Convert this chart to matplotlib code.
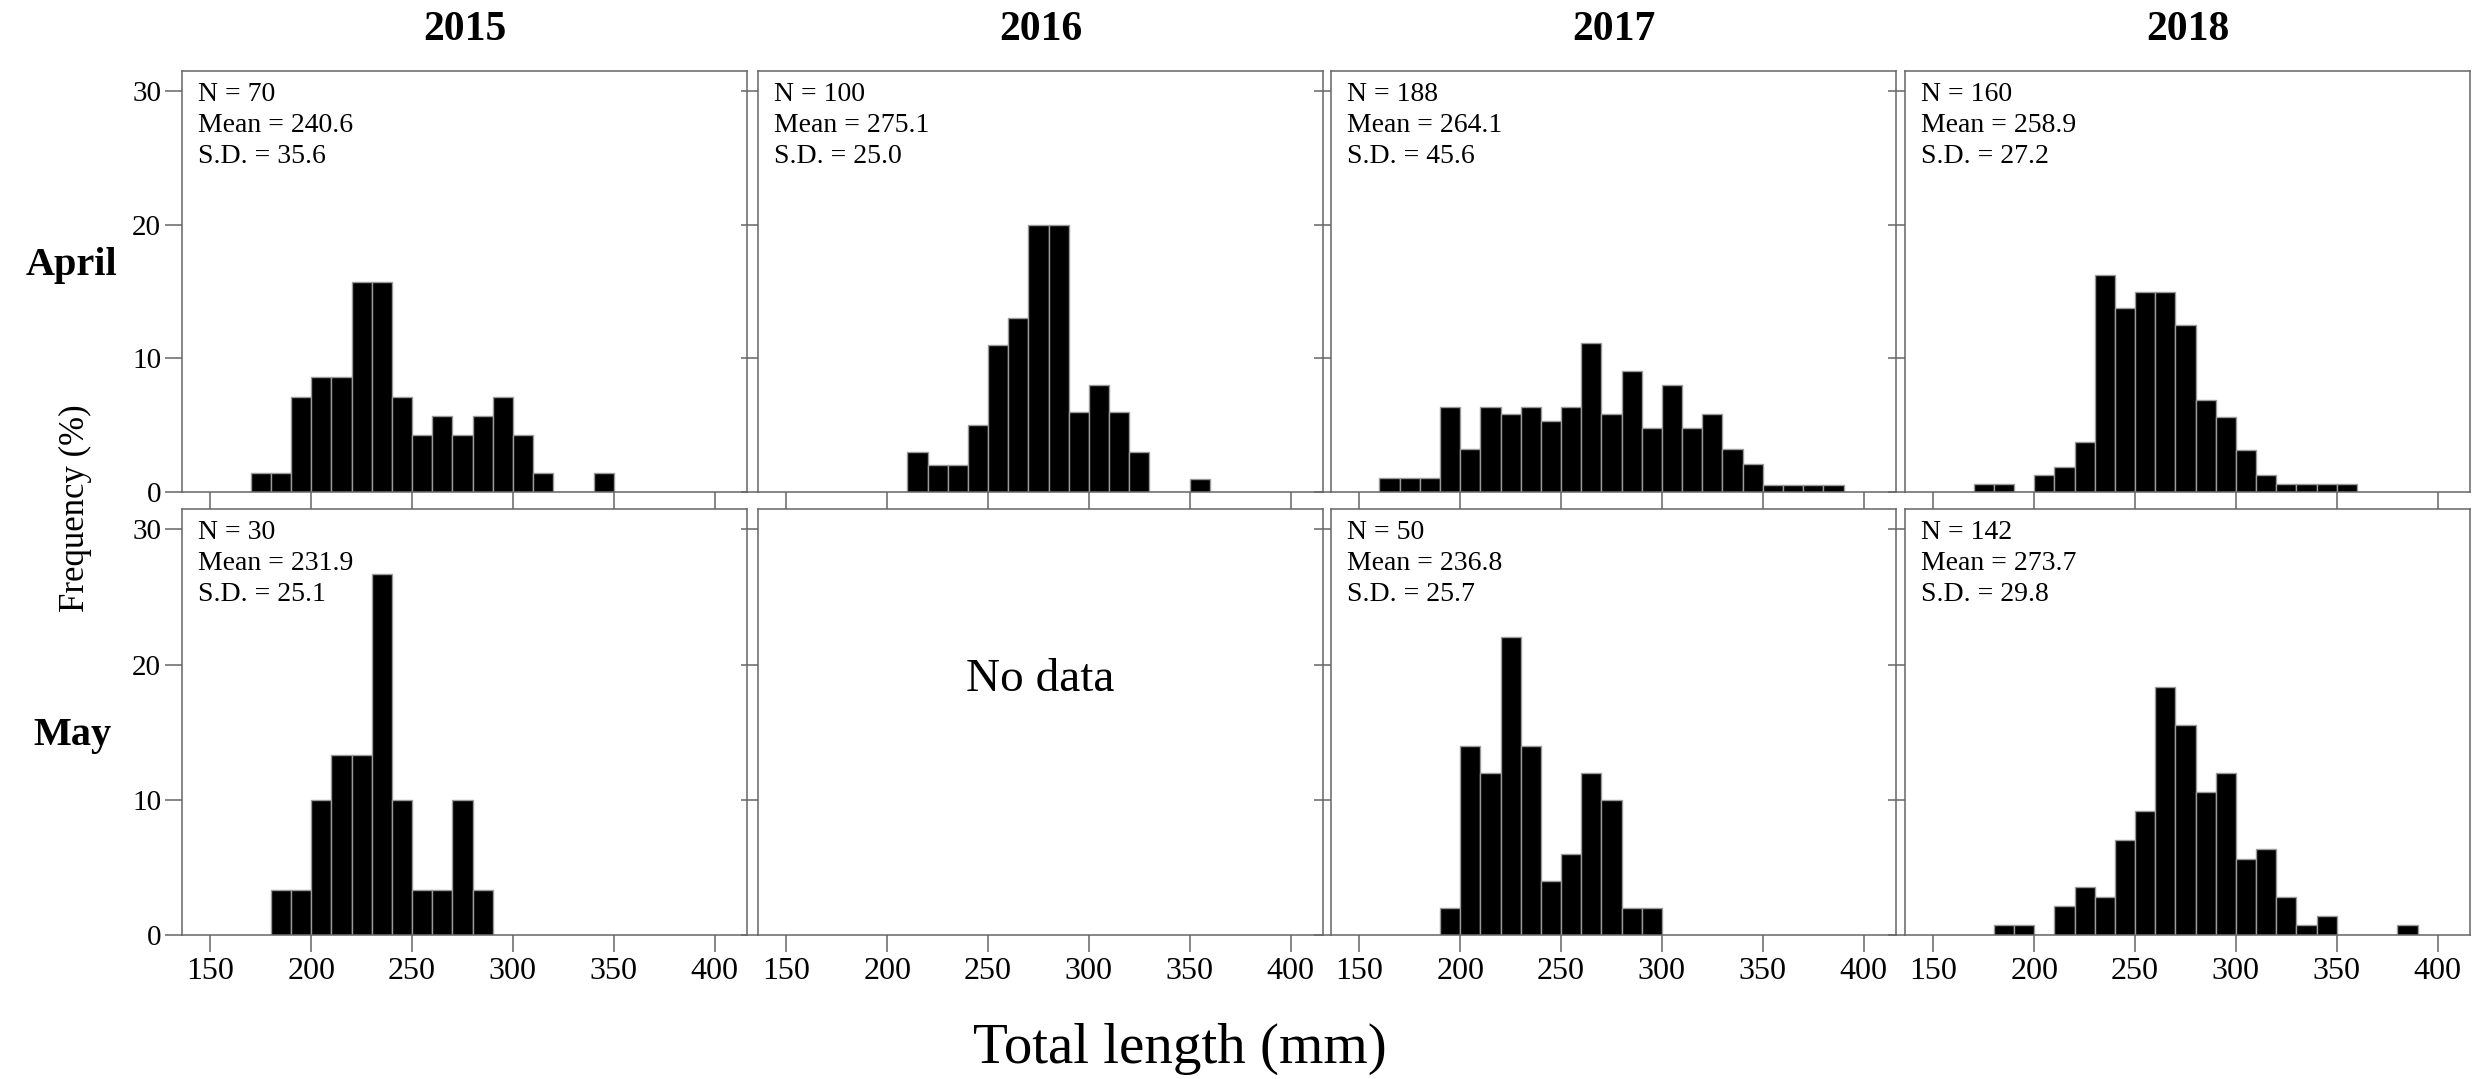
import matplotlib
matplotlib.use('Agg')
import matplotlib.pyplot as plt
import numpy as np

plt.rcParams['font.family'] = ['Liberation Serif', 'DejaVu Serif']

years = ['2015', '2016', '2017', '2018']
months = ['April', 'May']

# histogram counts per 10 mm bin, first bin lower edge in *_start
apr2015_start = 170
apr2015_counts = [1, 1, 5, 6, 6, 11, 11, 5, 3, 4, 3, 4, 5, 3, 1, 0, 0, 1]
apr2016_start = 210
apr2016_counts = [3, 2, 2, 5, 11, 13, 20, 20, 6, 8, 6, 3, 0, 0, 1]
apr2017_start = 160
apr2017_counts = [2, 2, 2, 12, 6, 12, 11, 12, 10, 12, 21, 11, 17, 9, 15, 9, 11, 6, 4, 1, 1, 1, 1]
apr2018_start = 170
apr2018_counts = [1, 1, 0, 2, 3, 6, 26, 22, 24, 24, 20, 11, 9, 5, 2, 1, 1, 1, 1]
may2015_start = 180
may2015_counts = [1, 1, 3, 4, 4, 8, 3, 1, 1, 3, 1]
may2017_start = 190
may2017_counts = [1, 7, 6, 11, 7, 2, 3, 6, 5, 1, 1]
may2018_start = 180
may2018_counts = [1, 1, 0, 3, 5, 4, 10, 13, 26, 22, 15, 17, 8, 9, 4, 1, 2, 0, 0, 0, 1]

# summary stats shown in each panel: (N, mean, sd)
apr_stats = [(70, 240.6, 35.6), (100, 275.1, 25.0), (188, 264.1, 45.6), (160, 258.9, 27.2)]
may_stats = [(30, 231.9, 25.1), None, (50, 236.8, 25.7), (142, 273.7, 29.8)]

apr_hist = [(apr2015_start, apr2015_counts), (apr2016_start, apr2016_counts),
            (apr2017_start, apr2017_counts), (apr2018_start, apr2018_counts)]
may_hist = [(may2015_start, may2015_counts), None,
            (may2017_start, may2017_counts), (may2018_start, may2018_counts)]

x_ticks = [150, 200, 250, 300, 350, 400]
y_ticks = [0, 10, 20, 30]

W, H = 2484, 1079
fig = plt.figure(figsize=(W / 100, H / 100), dpi=100)

col_left = [182, 758, 1331, 1905]
col_w = 565
row_top = [71, 509]
row_h = [421, 426]
frame_col = '#666666'

for r, (hists, stats) in enumerate([(apr_hist, apr_stats), (may_hist, may_stats)]):
    for c in range(4):
        top = row_top[r]
        h = row_h[r]
        ax = fig.add_axes([col_left[c] / W, (H - top - h) / H, col_w / W, h / H])

        if hists[c] is not None:
            start, counts = hists[c]
            n = stats[c][0]
            counts = np.array(counts)
            edges = start + 10 * np.arange(len(counts))
            pct = counts / n * 100
            ax.bar(edges, pct, width=10, align='edge', color='black',
                   edgecolor='#9a9a9a', linewidth=1.0)
            ax.text(0.028, 0.975, 'N = %d\nMean = %.1f\nS.D. = %.1f' % stats[c],
                    transform=ax.transAxes, ha='left', va='top',
                    fontsize=20, linespacing=1.32)
        else:
            ax.text(0.5, 0.6, 'No data', transform=ax.transAxes,
                    ha='center', va='center', fontsize=34)

        ax.set_xlim(136, 416)
        ax.set_ylim(0, 31.5)
        ax.set_xticks(x_ticks)
        ax.set_yticks(y_ticks)
        ax.tick_params(direction='out', length=12, width=1.1, color=frame_col,
                       labelsize=21, pad=3)
        ax.tick_params(axis='x', labelsize=23, pad=4)
        for sp in ax.spines.values():
            sp.set_color(frame_col)
            sp.set_linewidth(1.1)
        if r == 0:
            ax.set_xticklabels([])
        if c > 0:
            ax.set_yticklabels([])

        if r == 0:
            fig.text((col_left[c] + col_w / 2) / W, 1 - 30 / H, years[c],
                     ha='center', va='center', fontsize=30, fontweight='bold')

fig.text(71 / W, 1 - 265 / H, 'April', ha='center', va='center',
         fontsize=29, fontweight='bold')
fig.text(72 / W, 1 - 735 / H, 'May', ha='center', va='center',
         fontsize=29, fontweight='bold')
fig.text(75 / W, 1 - 508 / H, 'Frequency (%)', ha='center', va='center',
         rotation=90, fontsize=25)
fig.text(1180 / W, 1 - 1049 / H, 'Total length (mm)', ha='center', va='center',
         fontsize=41)

plt.savefig('out.png', dpi=100)
